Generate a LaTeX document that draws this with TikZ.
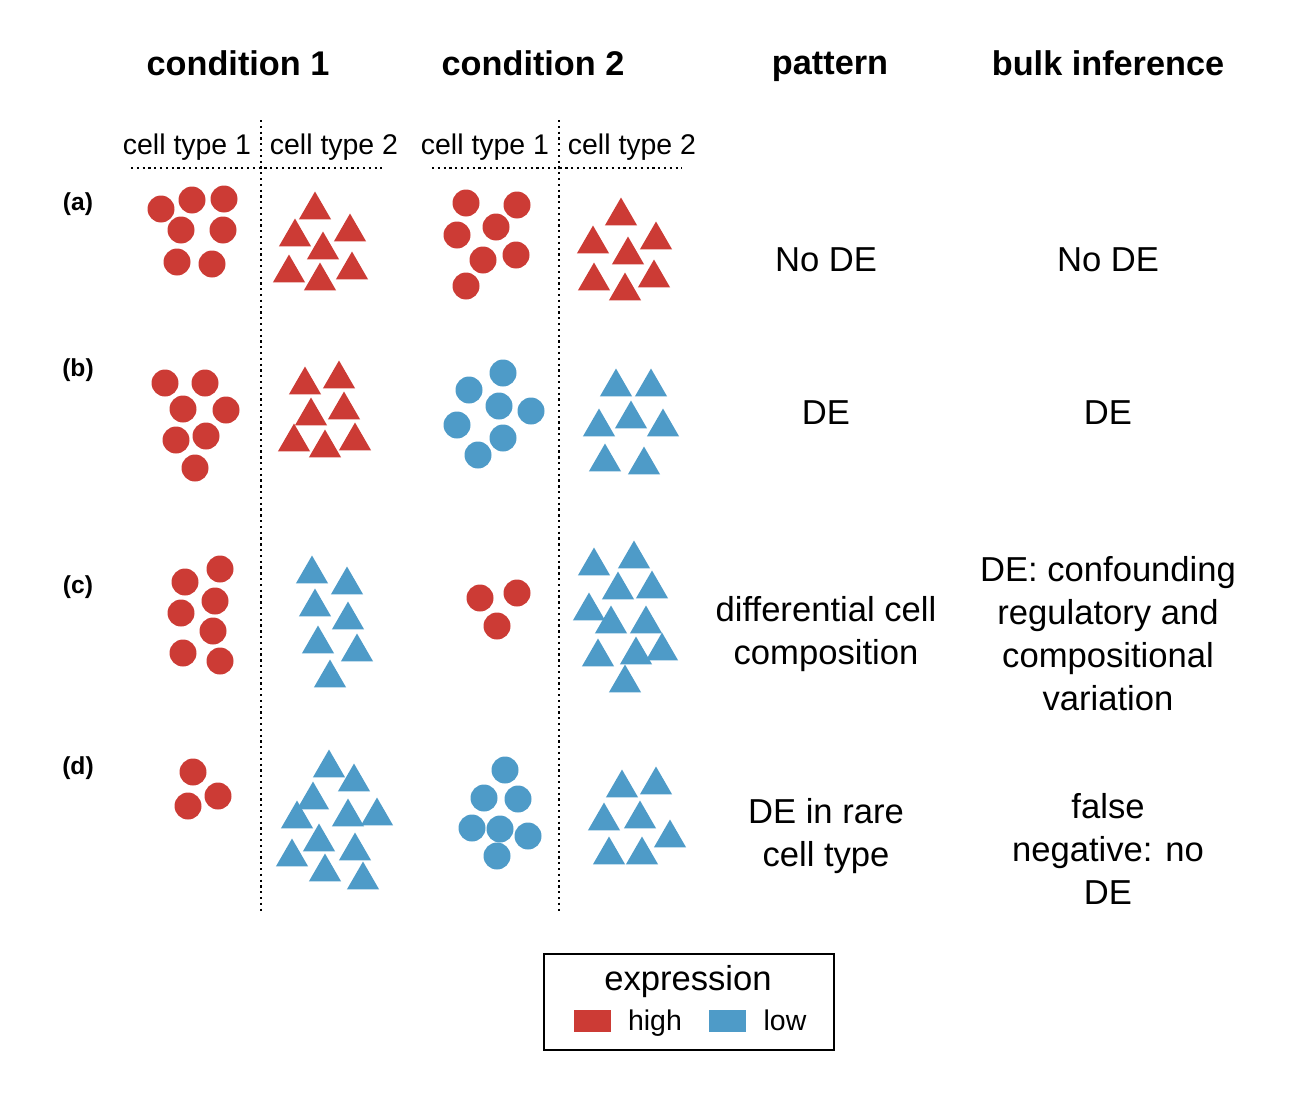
\documentclass[tikz,border=0pt]{standalone}
\usepackage{fontspec}
\setmainfont{Liberation Sans}
\usetikzlibrary{shapes.geometric}
\definecolor{hi}{HTML}{CC3B35}
\definecolor{lo}{HTML}{4E9BC8}
\tikzset{
  dot/.style={circle, fill=#1, draw=none, minimum size=0.54cm, inner sep=0pt},
  tri/.style={regular polygon, regular polygon sides=3, fill=#1, draw=none, minimum size=0.74cm, inner sep=0pt},
  head/.style={font=\fontsize{19.5}{22}\selectfont\bfseries},
  sub/.style={font=\fontsize{16.2}{18}\selectfont},
  txt/.style={font=\fontsize{19.7}{24.5}\selectfont, align=center},
  row/.style={font=\fontsize{14}{17}\selectfont\bfseries},
  divider/.style={dotted, line width=1.3pt}
}
\begin{document}
\begin{tikzpicture}[x=0.02cm, y=-0.02cm]
        \useasboundingbox (0,0) rectangle (1290,1102);

        %headers
        \node[head] (c1) at (238,63) {condition 1};
        \node[head] (c2) at (533,63) {condition 2};
        \node[head, anchor=base] (pat) at (830,74) {pattern};
        \node[head] (bulk) at (1108,63) {bulk inference};
        \node[sub, anchor=base] (t11) at (187,154) {cell type 1};
        \node[sub, anchor=base] (t12) at (334,154) {cell type 2};
        \node[sub, anchor=base] (t21) at (485,154) {cell type 1};
        \node[sub, anchor=base] (t22) at (632,154) {cell type 2};

        %dividers
        \draw[divider] (261,120) -- (261,912);
        \draw[divider] (559,120) -- (559,912);
        \draw[divider] (131,168) -- (382,168);
        \draw[divider] (432,168) -- (682,168);

        %row labels
        \node[row] (ra) at (78,204) {(a)};
        \node[row] (rb) at (78,370) {(b)};
        \node[row] (rc) at (78,587) {(c)};
        \node[row] (rd) at (78,768) {(d)};

        %row a
        \foreach \p [count=\i] in {(161,209),(192,200),(224,199),(181,230),(223,230),(177,262),(212,264)}
            \node[dot=hi] (a1\i) at \p {};
        \foreach \p [count=\i] in {(315,210),(295,237),(350,232),(323,250),(289,273),(320,281),(352,270)}
            \node[tri=hi] (a2\i) at \p {};
        \foreach \p [count=\i] in {(466,203),(517,205),(457,235),(496,227),(516,255),(483,260),(466,286)}
            \node[dot=hi] (a3\i) at \p {};
        \foreach \p [count=\i] in {(621,216),(593,244),(656,240),(628,255),(594,281),(625,291),(654,278)}
            \node[tri=hi] (a4\i) at \p {};

        %row b
        \foreach \p [count=\i] in {(165,383),(205,383),(183,409),(226,410),(176,440),(206,436),(195,468)}
            \node[dot=hi] (b1\i) at \p {};
        \foreach \p [count=\i] in {(305,385),(339,379),(311,416),(344,410),(294,442),(325,448),(355,441)}
            \node[tri=hi] (b2\i) at \p {};
        \foreach \p [count=\i] in {(503,373),(469,390),(499,406),(531,411),(457,425),(503,438),(478,455)}
            \node[dot=lo] (b3\i) at \p {};
        \foreach \p [count=\i] in {(616,387),(651,387),(599,427),(631,419),(663,427),(605,462),(644,465)}
            \node[tri=lo] (b4\i) at \p {};

        %row c
        \foreach \p [count=\i] in {(185,582),(220,569),(181,613),(215,601),(213,631),(183,653),(220,661)}
            \node[dot=hi] (c1\i) at \p {};
        \foreach \p [count=\i] in {(312,574),(347,585),(315,607),(348,620),(318,644),(357,652),(330,678)}
            \node[tri=lo] (c2\i) at \p {};
        \foreach \p [count=\i] in {(480,598),(517,593),(497,626)}
            \node[dot=hi] (c3\i) at \p {};
        \foreach \p [count=\i] in {(594,566),(634,559),(618,590),(652,589),(589,611),(611,624),(646,624),(598,657),(636,655),(662,651),(625,683)}
            \node[tri=lo] (c4\i) at \p {};

        %row d
        \foreach \p [count=\i] in {(193,772),(218,796),(188,806)}
            \node[dot=hi] (d1\i) at \p {};
        \foreach \p [count=\i] in {(329,768),(354,782),(313,800),(297,819),(348,817),(377,816),(319,842),(355,851),(292,857),(325,872),(363,880)}
            \node[tri=lo] (d2\i) at \p {};
        \foreach \p [count=\i] in {(505,770),(484,798),(518,799),(472,828),(500,829),(528,836),(497,856)}
            \node[dot=lo] (d3\i) at \p {};
        \foreach \p [count=\i] in {(622,788),(656,785),(604,821),(640,819),(670,838),(609,855),(642,855)}
            \node[tri=lo] (d4\i) at \p {};

        %pattern
        \node[txt] (pa) at (826,260) {No DE};
        \node[txt] (pb) at (826,413) {DE};
        \node[txt] (pc) at (826,634) {differential cell\\composition};
        \node[txt] (pd) at (826,836) {DE in rare\\cell type};

        %bulk inference
        \node[txt] (ba) at (1108,260) {No DE};
        \node[txt] (bb) at (1108,413) {DE};
        \node[txt] (bc) at (1108,634) {DE: confounding\\regulatory and\\compositional\\variation};
        \node[txt] (bd) at (1108,849) {false\\negative: no\\DE};

        %legend
        \draw[line width=1.2pt] (544,954) rectangle (834,1050);
        \node[txt] (lt) at (688,982) {expression};
        \fill[hi] (574,1010) rectangle (611,1032);
        \node[sub, anchor=base] (lh) at (655,1030) {high};
        \fill[lo] (709,1010) rectangle (746,1032);
        \node[sub, anchor=base] (ll) at (785,1030) {low};
\end{tikzpicture}
\end{document}
